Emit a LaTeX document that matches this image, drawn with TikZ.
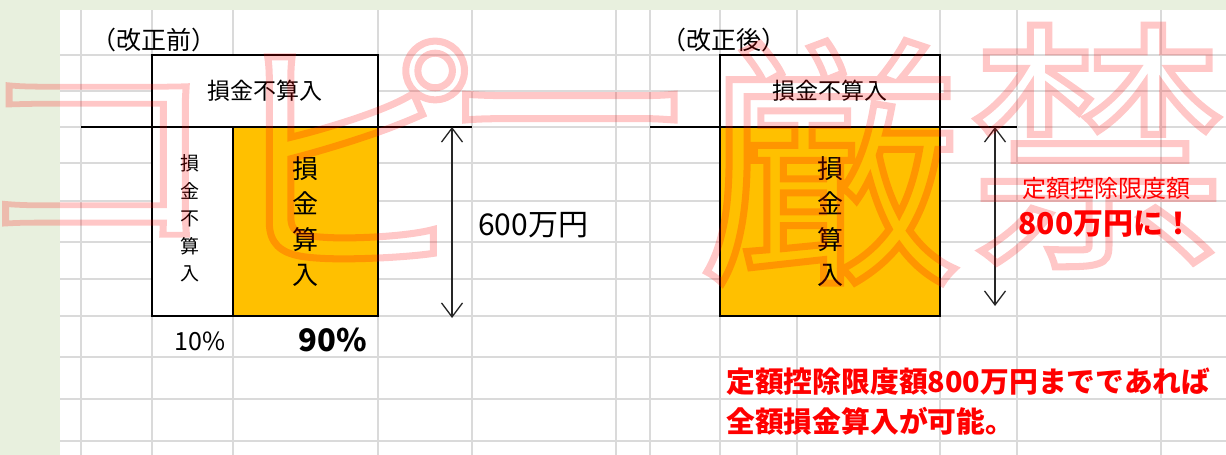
\documentclass[tikz,border=0pt]{standalone}
\usepackage{fontspec}
\newfontfamily\jp{Noto Sans CJK JP}
\usetikzlibrary{arrows.meta}
\definecolor{sheet}{RGB}{232,240,222}
\definecolor{gridline}{RGB}{218,218,218}
\definecolor{deduct}{RGB}{255,192,0}
\definecolor{alert}{RGB}{255,0,0}
\newcommand{\hollow}[1]{\special{pdf:literal direct 1 Tr 7 w}#1\special{pdf:literal direct 0 Tr}}

\begin{document}
\begin{tikzpicture}[x=1pt, y=-1pt]
        % Define styles
        \tikzstyle{cell} = [draw, line width=1.6pt, inner sep=0pt, outer sep=0pt, align=center]
        \tikzstyle{plain} = [inner sep=0pt, font=\jp\fontsize{23}{23}\selectfont]
        \tikzstyle{vsmall} = [inner sep=0pt, align=center, font=\jp\fontsize{19}{27.5}\selectfont]
        \tikzstyle{vlarge} = [font=\jp\fontsize{26}{35.5}\selectfont]
        \tikzstyle{dimarrow} = [{Straight Barb[length=14pt,width=21pt]}-{Straight Barb[length=14pt,width=21pt]}, line width=1.3pt, black!85]
        \tikzstyle{alertnote} = [inner sep=0pt, text=alert]
        \tikzstyle{stamp} = [inner sep=0pt, text=alert, font=\jp\fontsize{262}{262}\selectfont]

        % Sheet and grid
        \useasboundingbox (0,0) rectangle (1226,455);
        \fill[sheet] (0,0) rectangle (1226,455);
        \fill[white] (60,10) rectangle (1226,455);
        \foreach \gx in {81,152,233,378,472,616,650,720,797,940,1017,1161}
            \draw[gridline, line width=1.6pt] (\gx,10) -- (\gx,455);
        \foreach \gy in {55,91,127,163,201,242,279,316,357,399,441}
            \draw[gridline, line width=1.6pt] (60,\gy) -- (1226,\gy);

        % Before the revision
        \node[plain, font=\jp\fontsize{25}{25}\selectfont] (titlebefore) at (154,40) {（改正前）};
        \coordinate (basebeforeL) at (81,127);
        \coordinate (basebeforeR) at (472,127);
        \draw[line width=1.6pt] (basebeforeL) -- (basebeforeR);
        \node[cell, plain, fill=white, minimum width=226, minimum height=72] (topbefore) at (265,91) {損金不算入};
        \node[cell, fill=white, minimum width=81, minimum height=189] (notbefore) at (192.5,221.5) {};
        \node[vsmall] (notbeforetext) at (190,218.5) {損\\金\\不\\算\\入};
        \node[cell, vlarge, fill=deduct, minimum width=145, minimum height=189] (deductbefore) at (305.5,221.5) {損\\金\\算\\入};
        \node[plain, font=\jp\fontsize{25}{25}\selectfont] (ratenot) at (200,341) {10\%};
        \node[plain, font=\jp\bfseries\fontsize{31}{31}\selectfont] (ratededuct) at (333,340) {90\%};
        \coordinate (spanbeforetop) at (452,127);
        \coordinate (spanbeforebot) at (452,318);
        \draw[dimarrow] (spanbeforetop) -- (spanbeforebot);
        \node[plain, anchor=west, font=\jp\fontsize{30}{30}\selectfont] (amountbefore) at (478,225) {600万円};

        % After the revision
        \node[plain, font=\jp\fontsize{25}{25}\selectfont] (titleafter) at (724,40) {（改正後）};
        \coordinate (baseafterL) at (650,127);
        \coordinate (baseafterR) at (1017,127);
        \draw[line width=1.6pt] (baseafterL) -- (baseafterR);
        \node[cell, plain, fill=white, minimum width=220, minimum height=72] (topafter) at (830,91) {損金不算入};
        \node[cell, vlarge, fill=deduct, minimum width=220, minimum height=189] (deductafter) at (830,221.5) {損\\金\\算\\入};
        \coordinate (spanaftertop) at (995,127);
        \coordinate (spanafterbot) at (995,306);
        \draw[dimarrow] (spanaftertop) -- (spanafterbot);
        \node[alertnote, font=\jp\fontsize{24}{24}\selectfont] (limitlabel) at (1106,188) {定額控除限度額};
        \node[alertnote, font=\jp\bfseries\fontsize{30}{30}\selectfont] (limitvalue) at (1106,224) {800万円に！};
        \node[alertnote, anchor=west, font=\jp\bfseries\fontsize{28.8}{28.8}\selectfont] (summarytop) at (726,382) {定額控除限度額800万円までであれば};
        \node[alertnote, anchor=west, font=\jp\bfseries\fontsize{28.8}{28.8}\selectfont] (summarybot) at (726,421) {全額損金算入が可能。};

        % Watermark
        \begin{scope}[opacity=0.22]
            \node[stamp, yscale=0.82, transform shape] (stampko) at (95,160) {\hollow{コ}};
            \node[stamp] (stamppi) at (350,150) {\hollow{ピ}};
            \node[stamp] (stampbar) at (570,151) {\hollow{ー}};
            \node[stamp] (stampgen) at (830,162) {\hollow{厳}};
            \node[stamp] (stampkin) at (1098,146) {\hollow{禁}};
        \end{scope}

    \end{tikzpicture}
\end{document}
